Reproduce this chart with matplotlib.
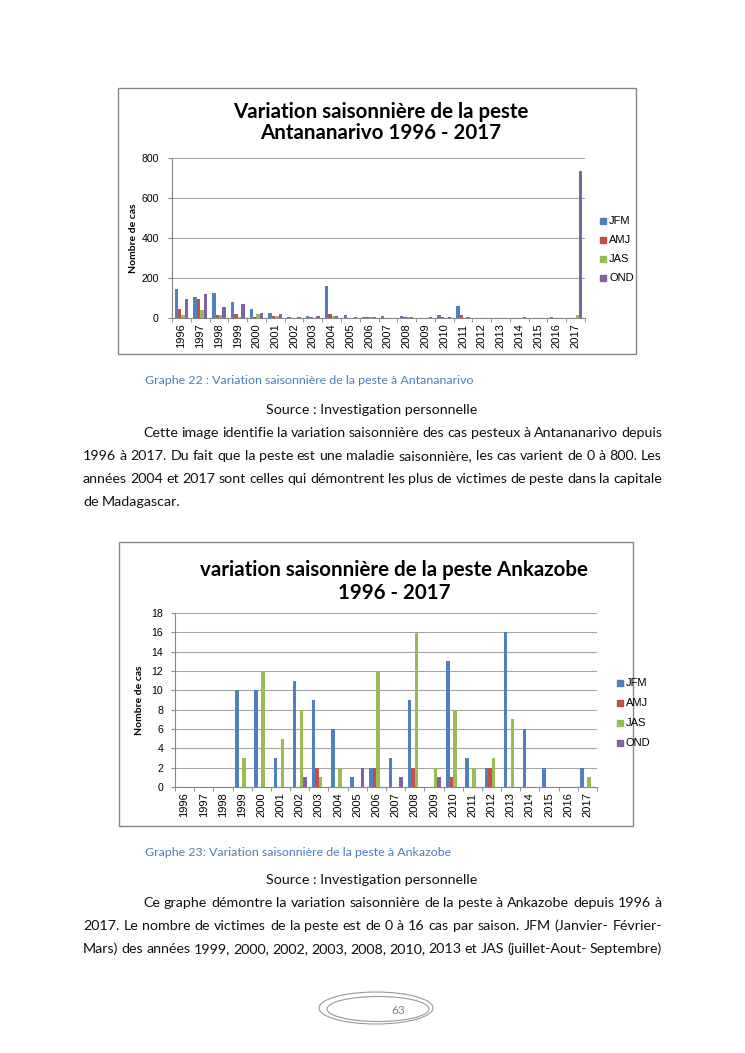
import numpy as np
import matplotlib as mpl
mpl.use('Agg')
import matplotlib.pyplot as plt
from matplotlib.patches import Rectangle, Ellipse
from matplotlib.font_manager import FontProperties

# ---- data ----
years = [str(y) for y in range(1996, 2018)]
saisons = ['JFM', 'AMJ', 'JAS', 'OND']
clr_saison = ['#4F81BD', '#C0504D', '#9BBB59', '#8064A2']

# Antananarivo
tana_jfm = [143, 103, 126, 81, 45, 27, 7, 10, 158, 17, 3, 12, 12, 2, 13, 61, 2, 0, 1, 0, 7, 0]
tana_amj = [46, 95, 13, 22, 7, 10, 2, 5, 22, 2, 3, 1, 5, 0, 5, 13, 1, 0, 0, 0, 0, 0]
tana_jas = [15, 40, 13, 5, 20, 12, 2, 2, 12, 1, 3, 1, 3, 1, 1, 2, 0, 0, 0, 0, 0, 16]
tana_ond = [95, 120, 53, 68, 27, 20, 7, 12, 12, 5, 5, 2, 5, 7, 7, 7, 0, 0, 5, 0, 0, 737]
tana_yticks = [0, 200, 400, 600, 800]

# Ankazobe
anka_jfm = [0, 0, 0, 10, 10, 3, 11, 9, 6, 1, 2, 3, 9, 0, 13, 3, 2, 16, 6, 2, 0, 2]
anka_amj = [0, 0, 0, 0, 0, 0, 0, 2, 0, 0, 2, 0, 2, 0, 1, 0, 2, 0, 0, 0, 0, 0]
anka_jas = [0, 0, 0, 3, 12, 5, 8, 1, 2, 0, 12, 0, 16, 2, 8, 2, 3, 7, 0, 0, 0, 1]
anka_ond = [0, 0, 0, 0, 0, 0, 1, 0, 0, 2, 0, 1, 0, 1, 0, 0, 0, 0, 0, 0, 0, 0]
anka_yticks = list(range(0, 19, 2))

para1 = ["Cette image identifie la variation saisonnière des cas pesteux à Antananarivo depuis",
         "1996 à 2017. Du fait que la peste est une maladie saisonnière, les cas varient de 0 à 800. Les",
         "années 2004 et 2017 sont celles qui démontrent les plus de victimes de peste dans la capitale",
         "de Madagascar."]
para2 = ["Ce graphe démontre la variation saisonnière de la peste à Ankazobe depuis 1996 à",
         "2017. Le nombre de victimes de la peste est de 0 à 16 cas par saison. JFM (Janvier- Février-",
         "Mars) des années 1999, 2000, 2002, 2003, 2008, 2010, 2013 et JAS (juillet-Aout- Septembre)"]

W, H = 745, 1053
clr_grid = '#a6a6a6'
clr_frame = '#868686'
clr_capt = '#4A7EBB'
tfont = 'Lato'

fig = plt.figure(figsize=(W/100., H/100.), dpi=100, facecolor='w')
bg = fig.add_axes([0, 0, 1, 1])
bg.set_xlim(0, W) ; bg.set_ylim(H, 0) ; bg.axis('off')
rnd = fig.canvas.get_renderer()


def ax_px(l, t, r, b):
    return fig.add_axes([l/W, 1.-b/H, (r-l)/W, (b-t)/H], facecolor='none')


def bar_chart(ax, series, yticks, title_l, title_xy, leg_xy, leg_sp, ylab_x, ypad):
    x = np.arange(len(years))
    wb = 1./5.5
    for i, (vals, clr) in enumerate(zip(series, clr_saison)):
        ax.bar(x + (i-1.5)*wb, vals, width=wb, color=clr, label=saisons[i], zorder=3)
    ax.set_xlim(-0.5, len(years)-0.5)
    ax.set_ylim(yticks[0], yticks[-1])
    ax.set_yticks(yticks)
    ax.set_yticklabels([str(v) for v in yticks], fontsize=7.6, family='Liberation Sans')
    ax.set_xticks(x)
    ax.set_xticklabels(years, rotation=90, fontsize=8, family='Liberation Sans')
    ax.set_xticks(np.arange(-0.5, len(years), 1.), minor=True)
    ax.tick_params(axis='x', which='major', length=0, pad=4)
    ax.tick_params(axis='x', which='minor', length=3, color=clr_frame)
    ax.tick_params(axis='y', length=3, color=clr_frame, pad=ypad)
    ax.grid(axis='y', color=clr_grid, lw=0.8, zorder=0)
    for s in ['top', 'right']:
        ax.spines[s].set_visible(False)
    for s in ['left', 'bottom']:
        ax.spines[s].set_color(clr_frame)
    # title
    for k, tl in enumerate(title_l):
        bg.text(title_xy[0], title_xy[1][k], tl, ha='center', va='center',
                fontsize=14.8, fontweight='bold', family=tfont)
    bg.text(ylab_x, (1.-ax.get_position().y0 - ax.get_position().height/2.)*H, 'Nombre de cas',
            rotation=90, ha='center', va='center', fontsize=7.5, fontweight='bold', family=tfont)
    # legend
    for i in range(4):
        yy = leg_xy[1] + i*leg_sp
        bg.add_patch(Rectangle((leg_xy[0], yy-3), 6, 6, color=clr_saison[i]))
        bg.text(leg_xy[0]+9, yy, saisons[i], va='center', ha='left', fontsize=8, family='Liberation Sans')


def justify(line, y, x0, x1, fs, last=False):
    fp = FontProperties(family=tfont, size=fs)
    words = line.split(' ')
    wds = [rnd.get_text_width_height_descent(w, fp, ismath=False)[0] for w in words]
    if last:
        gap = rnd.get_text_width_height_descent('a b', fp, ismath=False)[0] - \
              rnd.get_text_width_height_descent('ab', fp, ismath=False)[0]
    else:
        gap = (x1 - x0 - sum(wds)) / (len(words)-1)
    xx = x0
    for w, wd in zip(words, wds):
        bg.text(xx, y, w, ha='left', va='center_baseline', fontproperties=fp, color='#111111')
        xx += wd + gap


# ---- chart 1 ----
bg.add_patch(Rectangle((118, 88), 518, 266, fill=False, ec=clr_frame, lw=1))
ax1 = ax_px(172, 158, 585, 318)
bar_chart(ax1, [tana_jfm, tana_amj, tana_jas, tana_ond], tana_yticks,
          ['Variation saisonnière de la peste', 'Antananarivo 1996 - 2017'], (381, [112, 133]),
          (600, 221), 19, 133, 6.5)

# ---- chart 2 ----
bg.add_patch(Rectangle((119, 542), 514, 284, fill=False, ec=clr_frame, lw=1))
ax2 = ax_px(175, 613, 597, 787)
bar_chart(ax2, [anka_jfm, anka_amj, anka_jas, anka_ond], anka_yticks,
          ['variation saisonnière de la peste Ankazobe', '1996 - 2017'], (394, [570, 593]),
          (617, 683), 20, 139, 5.5)

# ---- page text ----
fs_body = 10.3
bg.text(145, 381, 'Graphe 22 : Variation saisonnière de la peste à Antananarivo', ha='left', va='center',
        fontsize=8.9, color=clr_capt, family=tfont)
bg.text(372, 410, 'Source : Investigation personnelle', ha='center', va='center', fontsize=fs_body,
        family=tfont, color='#111111')
ys1 = [432, 455, 478, 501]
for k, ln in enumerate(para1):
    justify(ln, ys1[k], 143 if k == 0 else 83, 662, fs_body, last=(k == len(para1)-1))

bg.text(145, 852, 'Graphe 23: Variation saisonnière de la peste à Ankazobe', ha='left', va='center',
        fontsize=8.9, color=clr_capt, family=tfont)
bg.text(372, 880, 'Source : Investigation personnelle', ha='center', va='center', fontsize=fs_body,
        family=tfont, color='#111111')
ys2 = [902, 925, 948]
for k, ln in enumerate(para2):
    justify(ln, ys2[k], 143 if k == 0 else 83, 662, fs_body)

# page number
bg.add_patch(Ellipse((376, 1008), 114, 32, fill=False, ec='#9a9a9a', lw=0.8))
bg.add_patch(Ellipse((378, 1009), 102, 25, fill=False, ec='#9a9a9a', lw=0.8))
bg.text(398, 1010, '63', ha='center', va='center', fontsize=8.5, color='#808080', family=tfont)

plt.savefig('out.png', dpi=100, facecolor='w')
